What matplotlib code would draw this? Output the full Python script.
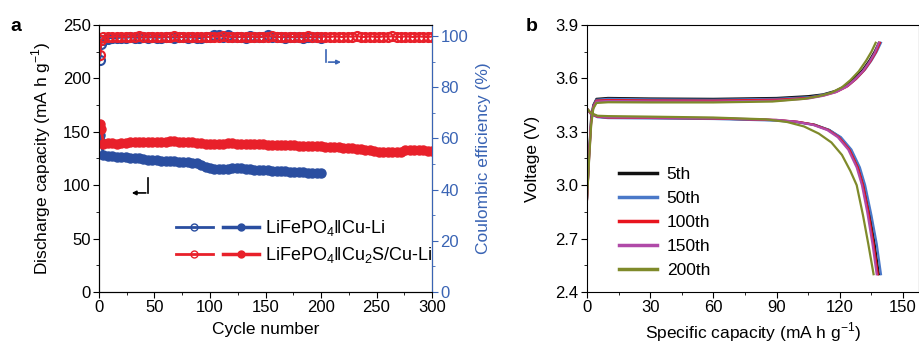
import matplotlib
matplotlib.use("Agg")
import matplotlib.pyplot as plt
from matplotlib.lines import Line2D
from matplotlib.legend_handler import HandlerTuple
from matplotlib.ticker import MultipleLocator, FormatStrFormatter

plt.rcParams['font.family'] = ['Liberation Sans', 'DejaVu Sans']
plt.rcParams['mathtext.fontset'] = 'custom'
plt.rcParams['mathtext.rm'] = 'Liberation Sans'
plt.rcParams['font.size'] = 12.5
plt.rcParams['xtick.labelsize'] = 12
plt.rcParams['ytick.labelsize'] = 12

# ---- panel a data ----
cyc_cu = [1, 2] + list(range(4, 201, 4))
cap_cu = [147, 140,
          128, 127.5, 127, 126.5, 126, 126, 125.5, 125, 125, 124.5,
          124, 124, 123.5, 123, 123, 122.5, 122.5, 122, 122, 121.5,
          121, 120.5, 118.5, 117, 116, 115.5, 115, 115, 115.5, 116,
          116, 116, 115.5, 115, 114.5, 114.5, 114, 114, 113.5, 113.5,
          113, 113, 112.5, 112.5, 112, 112, 111.5, 111.5, 111, 111]
ce_cu = [90.5, 97.0,
         98.5, 99.0, 99.3, 99.2, 99.4, 99.3, 99.5, 99.4, 99.3, 99.5,
         99.4, 99.5, 99.3, 99.4, 99.6, 99.5, 99.4, 99.5, 99.6, 99.4,
         99.5, 99.3, 99.2, 99.5, 99.8, 100.2, 100.5, 99.8, 100.3, 99.6,
         99.5, 99.7, 99.4, 100.0, 99.6, 99.5, 99.8, 100.2, 99.6, 99.5,
         99.7, 99.4, 99.6, 99.5, 99.7, 99.4, 99.5, 99.6, 99.5, 99.4]

cyc_cs = [1, 2] + list(range(4, 301, 4))
cap_cs = [157, 153,
          139, 139.5, 139.5, 139, 139.5, 139.5, 140, 140, 140, 140,
          140.5, 140.5, 140, 140.5, 140.5, 141, 141, 140.5, 140.5, 140,
          140, 139.5, 139.5, 139, 139, 139, 139, 139, 139.5, 139.5,
          139, 139, 139, 139, 138.5, 138.5, 138.5, 138, 138, 138,
          138, 137.5, 137.5, 137.5, 137, 137, 137, 136.5, 136.5, 136.5,
          136, 136, 135.5, 135.5, 135, 135, 134.5, 134, 133.5, 133,
          132.5, 132, 131.5, 131, 131, 131, 131, 131.5, 132.5, 133,
          133, 132.5, 132.5, 132, 132]
ce_cs = [92.5, 98.5,
         99.5, 99.7, 99.6, 99.8, 99.7, 99.6, 99.8, 99.7, 99.9, 99.7,
         99.6, 99.8, 99.7, 99.6, 99.8, 99.7, 99.9, 99.6, 99.7, 99.8,
         99.6, 99.7, 99.8, 99.7, 99.6, 99.8, 99.7, 99.9, 99.7, 99.6,
         99.8, 99.7, 99.6, 99.8, 99.7, 99.6, 99.8, 99.7, 99.9, 99.7,
         99.6, 99.8, 99.7, 99.6, 99.8, 99.7, 99.9, 99.7, 99.6, 99.8,
         99.7, 99.6, 99.8, 99.7, 99.6, 99.8, 99.7, 99.9, 99.7, 99.6,
         99.8, 99.7, 99.6, 99.8, 99.7, 99.9, 99.6, 99.7, 99.8, 99.7,
         99.6, 99.8, 99.7, 99.6, 99.8]

# ---- panel b data: charge / discharge profiles ----
cycle_labels = ['5th', '50th', '100th', '150th', '200th']
cycle_colors = ['#111111', '#4a78c8', '#e8141e', '#b04aa8', '#7f8a2a']

chg_cap = [
    [0, 1, 2, 3, 4.5, 10, 30, 60, 90, 105, 112, 118, 123, 127, 131, 134, 136.5, 138.5],
    [0, 1, 2, 3, 4.5, 10, 30, 60, 90, 106, 113, 119, 124, 128, 132, 135, 137.5, 139.5],
    [0, 1, 2, 3, 4.5, 10, 30, 60, 90, 105, 112.5, 118.5, 123.5, 127.5, 131.5, 134.5, 137, 139],
    [0, 1, 2, 3, 4.5, 10, 30, 60, 90, 105, 112, 118, 123, 127, 131, 134, 136.5, 138.5],
    [0, 1, 2, 3, 4.5, 10, 30, 60, 88, 103, 110, 116, 121, 125, 129, 132.5, 135, 137],
]
chg_v = [
    [2.92, 3.18, 3.38, 3.45, 3.485, 3.49, 3.487, 3.485, 3.49, 3.50, 3.51, 3.53, 3.56, 3.60, 3.65, 3.70, 3.75, 3.80],
    [2.92, 3.17, 3.37, 3.445, 3.48, 3.485, 3.482, 3.48, 3.485, 3.495, 3.51, 3.53, 3.56, 3.60, 3.65, 3.70, 3.75, 3.80],
    [2.92, 3.16, 3.36, 3.44, 3.475, 3.478, 3.476, 3.475, 3.48, 3.49, 3.505, 3.525, 3.555, 3.595, 3.645, 3.695, 3.745, 3.80],
    [2.92, 3.15, 3.35, 3.435, 3.47, 3.473, 3.471, 3.47, 3.475, 3.487, 3.502, 3.522, 3.552, 3.592, 3.642, 3.692, 3.742, 3.80],
    [2.92, 3.14, 3.34, 3.43, 3.462, 3.466, 3.465, 3.465, 3.47, 3.485, 3.50, 3.52, 3.55, 3.59, 3.64, 3.70, 3.75, 3.80],
]
dis_cap = [
    [0, 2, 5, 10, 30, 60, 90, 100, 108, 115, 120, 125, 129, 131.5, 134, 136.5, 138.5],
    [0, 2, 5, 10, 30, 60, 90, 100, 108, 115, 120.5, 125.5, 129.5, 132, 135, 137.5, 139.5],
    [0, 2, 5, 10, 30, 60, 90, 100, 107.5, 114.5, 119.5, 124.5, 128.5, 131, 133.5, 136, 138],
    [0, 2, 5, 10, 30, 60, 90, 99, 107, 114, 119, 124, 128, 130.5, 133, 135.5, 137.5],
    [0, 2, 5, 10, 30, 60, 85, 95, 103, 110, 116, 121, 125, 128, 131, 133.5, 136],
]
dis_v = [
    [3.43, 3.40, 3.385, 3.38, 3.378, 3.375, 3.365, 3.355, 3.34, 3.31, 3.27, 3.20, 3.10, 3.00, 2.85, 2.67, 2.50],
    [3.43, 3.398, 3.382, 3.377, 3.375, 3.372, 3.363, 3.353, 3.338, 3.31, 3.27, 3.20, 3.10, 3.00, 2.83, 2.67, 2.50],
    [3.43, 3.40, 3.385, 3.38, 3.378, 3.375, 3.366, 3.356, 3.34, 3.31, 3.27, 3.20, 3.10, 3.00, 2.85, 2.67, 2.50],
    [3.43, 3.402, 3.387, 3.382, 3.38, 3.377, 3.367, 3.357, 3.34, 3.31, 3.27, 3.20, 3.10, 3.00, 2.85, 2.67, 2.50],
    [3.43, 3.405, 3.39, 3.388, 3.385, 3.38, 3.37, 3.355, 3.33, 3.29, 3.24, 3.17, 3.08, 3.00, 2.83, 2.67, 2.50],
]

BLUE = '#2a4ea0'
RED = '#e8202a'
AXBLUE = '#3a64b4'

fig = plt.figure(figsize=(9.2, 3.47), dpi=100)
ax = fig.add_axes([0.1076, 0.1585, 0.362, 0.7695])
ax2 = ax.twinx()

# capacity (filled)
ax.plot(cyc_cu, cap_cu, '-o', color=BLUE, ms=6.5, lw=2, zorder=3)
ax.plot(cyc_cs, cap_cs, '-o', color=RED, ms=6.5, lw=2, zorder=3)
# coulombic efficiency (open)
ax2.plot(cyc_cu, ce_cu, '-o', color=BLUE, mfc='none', ms=6.5, lw=1.5, mew=1.5)
ax2.plot(cyc_cs, ce_cs, '-o', color=RED, mfc='none', ms=6.5, lw=1.5, mew=1.5)

ax.set_xlim(0, 300)
ax.set_ylim(0, 250)
ax2.set_ylim(0, 104.3)
ax.xaxis.set_major_locator(MultipleLocator(50))
ax.xaxis.set_minor_locator(MultipleLocator(25))
ax.yaxis.set_major_locator(MultipleLocator(50))
ax.yaxis.set_minor_locator(MultipleLocator(25))
ax2.yaxis.set_major_locator(MultipleLocator(20))
ax2.yaxis.set_minor_locator(MultipleLocator(10))
ax.tick_params(which='both', direction='out', top=False)
ax.tick_params(which='major', length=4, pad=2)
ax.tick_params(which='minor', length=2.5)
ax2.tick_params(which='both', direction='out', colors=AXBLUE)
ax2.tick_params(which='major', length=4, pad=2)
ax2.tick_params(which='minor', length=2.5)
ax2.spines['right'].set_color(AXBLUE)
ax.set_xlabel('Cycle number', labelpad=5)
ax.set_ylabel('Discharge capacity (mA h g$^{-1}$)', labelpad=7)
ax2.set_ylabel('Coulombic efficiency (%)', color=AXBLUE, labelpad=6)

# axis-pointer arrows
ax.plot([0.147, 0.147], [0.427, 0.371], transform=ax.transAxes, color='k', lw=1.2)
ax.annotate('', xy=(0.09, 0.371), xytext=(0.149, 0.371), xycoords='axes fraction',
            arrowprops=dict(arrowstyle='-|>', color='k', lw=1.2, mutation_scale=6))
ax.plot([0.683, 0.683], [0.906, 0.861], transform=ax.transAxes, color=AXBLUE, lw=1.2)
ax.annotate('', xy=(0.735, 0.861), xytext=(0.681, 0.861), xycoords='axes fraction',
            arrowprops=dict(arrowstyle='-|>', color=AXBLUE, lw=1.2, mutation_scale=6))

# legend for panel a
h_cu = (Line2D([], [], color=BLUE, marker='o', mfc='none', ms=5, lw=2),
        Line2D([], [], color=BLUE, marker='o', ms=5, lw=2.5))
h_cs = (Line2D([], [], color=RED, marker='o', mfc='none', ms=5, lw=2),
        Line2D([], [], color=RED, marker='o', ms=5, lw=2.5))
ax.legend([h_cu, h_cs],
          ['LiFePO$_4$\u2016Cu-Li', 'LiFePO$_4$\u2016Cu$_2$S/Cu-Li'],
          handler_map={tuple: HandlerTuple(ndivide=None, pad=0.6)},
          handlelength=4.6, frameon=False, loc='lower left',
          bbox_to_anchor=(0.2, 0.06), labelspacing=0.4, handletextpad=0.3,
          fontsize=13, borderaxespad=0.2)

fig.text(0.011, 0.925, 'a', fontsize=14, fontweight='bold', va='center')

# ---- panel b ----
bx = fig.add_axes([0.638, 0.1585, 0.361, 0.7695])
for i in range(len(cycle_labels)):
    bx.plot(chg_cap[i], chg_v[i], color=cycle_colors[i], lw=1.6)
    bx.plot(dis_cap[i], dis_v[i], color=cycle_colors[i], lw=1.6, label=cycle_labels[i])
bx.set_xlim(0, 157.6)
bx.set_ylim(2.4, 3.9)
bx.xaxis.set_major_locator(MultipleLocator(30))
bx.xaxis.set_minor_locator(MultipleLocator(15))
bx.yaxis.set_major_locator(MultipleLocator(0.3))
bx.yaxis.set_minor_locator(MultipleLocator(0.15))
bx.tick_params(which='both', direction='out')
bx.tick_params(which='major', length=4, pad=2)
bx.tick_params(which='minor', length=2.5)
bx.yaxis.set_major_formatter(FormatStrFormatter('%.1f'))
bx.set_xlabel('Specific capacity (mA h g$^{\u22121}$)', labelpad=4)
bx.set_ylabel('Voltage (V)', labelpad=11)
leg = bx.legend(frameon=False, loc='lower left', bbox_to_anchor=(0.065, 0.015),
                handlelength=2.2, labelspacing=0.5, handletextpad=0.55, fontsize=12.5,
                borderaxespad=0.2)
for l in leg.get_lines():
    l.set_linewidth(2.5)
fig.text(0.571, 0.925, 'b', fontsize=14, fontweight='bold', va='center')

fig.savefig('out.png', dpi=100)
